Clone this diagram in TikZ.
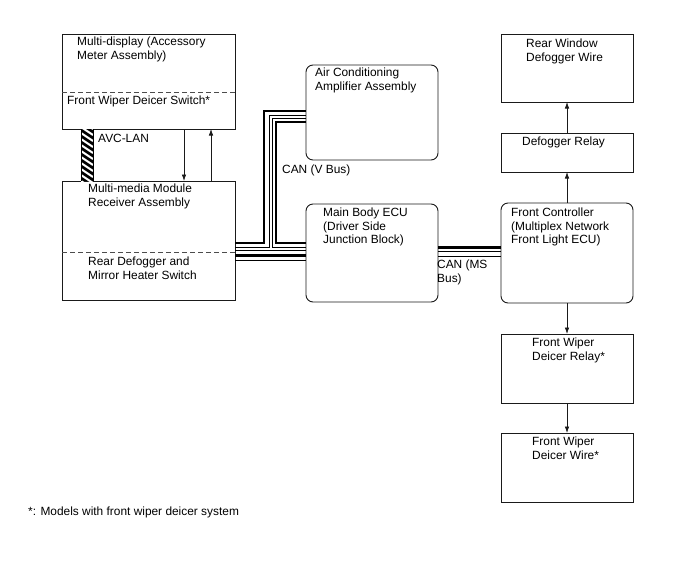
\documentclass[tikz,border=0pt]{standalone}
\usepackage{fontspec}
\setmainfont{Liberation Sans}
\usetikzlibrary{arrows.meta, positioning, calc}
\definecolor{framegray}{HTML}{1A1A1A}

\begin{document}
\begin{tikzpicture}[
    x=1pt, y=-1pt,
    box/.style={draw=framegray, line width=0.9pt, minimum width=132pt, inner sep=0pt, outer sep=0pt},
    rbox/.style={box, rounded corners=7pt},
    lbl/.style={anchor=north west, inner sep=0pt, align=left, font=\fontsize{11.9}{13.3}\selectfont},
    arrow/.style={-{Latex[length=6.5pt,width=4.5pt]}, line width=0.7pt, draw=framegray},
    splitline/.style={dash pattern=on 5pt off 3pt, draw=black!70, line width=0.9pt},
    canbold/.style={line width=2.6pt, draw=black},
    canthin/.style={line width=0.9pt, draw=black},
]
    \useasboundingbox[fill=white] (0,0) rectangle (688,560);

    % left column
    \node[box, anchor=north west, minimum width=173pt, minimum height=95pt] (mdisp) at (62,34) {};
    \node[box, below=52pt of mdisp, minimum width=173pt, minimum height=119pt] (mmod) {};
    \node[lbl] (mdisptxt) at ([shift={(15,3)}]mdisp.north west) {Multi-display (Accessory\\Meter Assembly)};
    \node[lbl] (wswtxt) at ([shift={(5,62)}]mdisp.north west) {Front Wiper Deicer Switch*};
    \node[lbl] (mmodtxt) at ([shift={(26,3)}]mmod.north west) {Multi-media Module\\Receiver Assembly};
    \node[lbl] (rdswtxt) at ([shift={(26,76)}]mmod.north west) {Rear Defogger and\\Mirror Heater Switch};
    \draw[splitline] (mdisp.west |- 0,92) -- (mdisp.east |- 0,92);
    \draw[splitline] (mmod.west |- 0,252) -- (mmod.east |- 0,252);

    % AVC-LAN
    \node[inner sep=0pt, outer sep=0pt, minimum width=12pt, minimum height=52pt, fill=black] (avclan) at (87,155) {};
    \begin{scope}
        \clip (avclan.north west) rectangle (avclan.south east);
        \foreach \k in {0,...,10}
            \draw[white, line width=2pt] ($(avclan.north west)+(0,\k*6-8)$) -- ++(12,8);
    \end{scope}
    \draw[line width=1pt] (avclan.north west) -- (avclan.south west);
    \draw[line width=1pt] (avclan.north east) -- (avclan.south east);
    \node[lbl] (avctxt) at ([shift={(5,5)}]avclan.north east) {AVC-LAN};

    \draw[arrow] (mdisp.south -| 184,0) -- (mmod.north -| 184,0);
    \draw[arrow] (mmod.north -| 211,0) -- (mdisp.south -| 211,0);

    % middle column
    \node[rbox, anchor=north west, minimum height=95pt] (acamp) at (306,65) {};
    \node[rbox, below=44pt of acamp, minimum height=98pt] (mbecu) {};
    \node[lbl] (acamptxt) at ([shift={(9,3)}]acamp.north west) {Air Conditioning\\Amplifier Assembly};
    \node[lbl] (mbecutxt) at ([shift={(17,4)}]mbecu.north west) {Main Body ECU\\(Driver Side\\Junction Block)};

    % CAN (V Bus)
    \draw[canbold] (mmod.east |- 0,243) -| (264,111) -- (acamp.west |- 0,111);
    \draw[canthin] (mmod.east |- 0,247) -| (269,115) -- (acamp.west |- 0,115);
    \draw[canthin] (acamp.west |- 0,118) -| (272,247) -- (mbecu.west |- 0,247);
    \draw[canbold] (acamp.west |- 0,122) -| (276,243) -- (mbecu.west |- 0,243);
    \draw[canthin] (mmod.east |- 0,250) -- (mbecu.west |- 0,250);
    \draw[canbold] (mmod.east |- 0,255.5) -- (mbecu.west |- 0,255.5);
    \draw[canthin] (mmod.east |- 0,260) -- (mbecu.west |- 0,260);
    \node[lbl] (vbustxt) at (282,165) {CAN (V Bus)};

    % right column
    \node[box, anchor=north west, minimum height=68pt] (rwwire) at (501,34) {};
    \node[box, below=31pt of rwwire, minimum height=39pt] (defrly) {};
    \node[rbox, below=31pt of defrly, minimum height=100pt] (fctrl) {};
    \node[box, below=31pt of fctrl, minimum height=69pt] (wdrly) {};
    \node[box, below=30pt of wdrly, minimum height=69pt] (wdwire) {};
    \node[lbl] (rwwiretxt) at ([shift={(25,5)}]rwwire.north west) {Rear Window\\Defogger Wire};
    \node[lbl] (defrlytxt) at ([shift={(21,4)}]defrly.north west) {Defogger Relay};
    \node[lbl] (fctrltxt) at ([shift={(10,5)}]fctrl.north west) {Front Controller\\(Multiplex Network\\Front Light ECU)};
    \node[lbl] (wdrlytxt) at ([shift={(31,4)}]wdrly.north west) {Front Wiper\\Deicer Relay*};
    \node[lbl] (wdwiretxt) at ([shift={(31,4)}]wdwire.north west) {Front Wiper\\Deicer Wire*};

    \draw[arrow] (defrly) -- (rwwire);
    \draw[arrow] (fctrl) -- (defrly);
    \draw[arrow] (fctrl) -- (wdrly);
    \draw[arrow] (wdrly) -- (wdwire);

    % CAN (MS Bus)
    \draw[canbold] (mbecu.east |- 0,247.5) -- (fctrl.west |- 0,247.5);
    \draw[canthin] (mbecu.east |- 0,251.5) -- (fctrl.west |- 0,251.5);
    \draw[canthin] (mbecu.east |- 0,256) -- (fctrl.west |- 0,256);
    \node[lbl] (msbustxt) at (437,260) {CAN (MS\\Bus)};

    \node[lbl] (notetxt) at (28,507) {*: Models with front wiper deicer system};
\end{tikzpicture}
\end{document}
